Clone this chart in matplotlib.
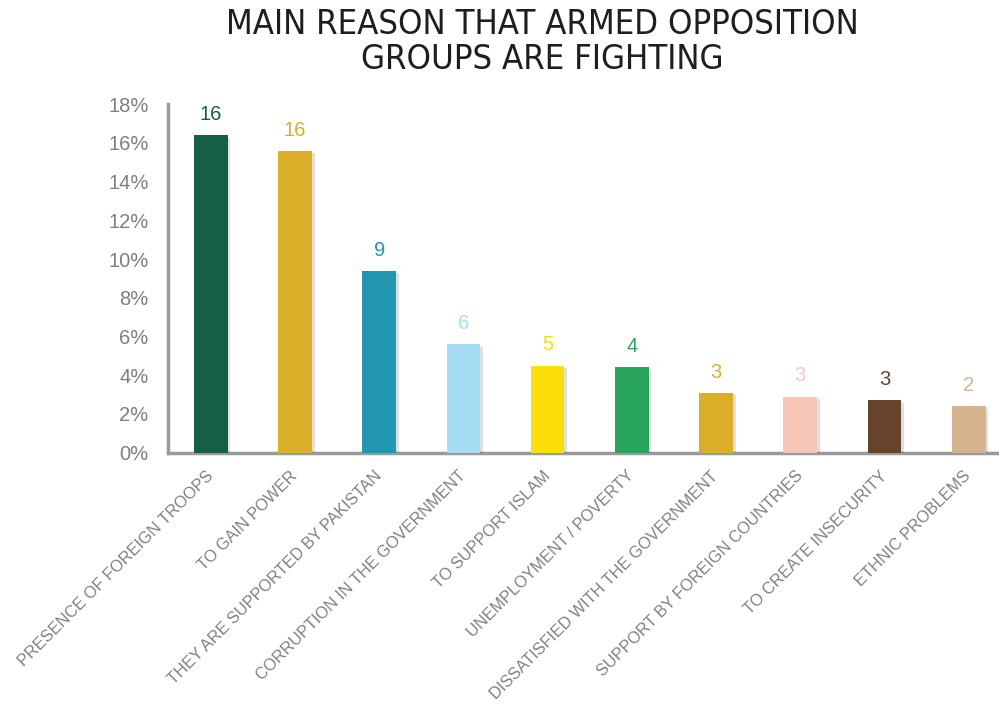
import matplotlib
matplotlib.use("Agg")
import matplotlib.pyplot as plt
import matplotlib.patheffects as pe
from matplotlib.ticker import FuncFormatter
import numpy as np

categories = [
    "PRESENCE OF FOREIGN TROOPS",
    "TO GAIN POWER",
    "THEY ARE SUPPORTED BY PAKISTAN",
    "CORRUPTION IN THE GOVERNMENT",
    "TO SUPPORT ISLAM",
    "UNEMPLOYMENT / POVERTY",
    "DISSATISFIED WITH THE GOVERNMENT",
    "SUPPORT BY FOREIGN COUNTRIES",
    "TO CREATE INSECURITY",
    "ETHNIC PROBLEMS",
]
values = [16.4, 15.6, 9.4, 5.6, 4.5, 4.4, 3.1, 2.9, 2.7, 2.4]
colors = ["#165E48", "#DBAE27", "#2196B0", "#A7DDF4", "#FBDF07",
          "#27A55A", "#DBAE27", "#F8C7B8", "#66432A", "#D6B38C"]
yticks = [0, 2, 4, 6, 8, 10, 12, 14, 16, 18]
title = "MAIN REASON THAT ARMED OPPOSITION\nGROUPS ARE FIGHTING"

plt.rcParams["font.family"] = ["Liberation Sans", "DejaVu Sans"]

fig = plt.figure(figsize=(9.99, 7.04), dpi=100)
ax = fig.add_axes([0.168, 0.357, 0.832, 0.495])

x = np.arange(len(values))
bars = ax.bar(x, values, width=0.4, color=colors, zorder=3)
for b in bars:
    b.set_path_effects([pe.SimplePatchShadow(offset=(2, -2), shadow_rgbFace="#000000", alpha=0.12),
                        pe.Normal()])

# value labels, rounded half-up to whole percent
for xi, v, c in zip(x, values, colors):
    ax.annotate(f"{int(v + 0.5)}", (xi, v), xytext=(0, 8), textcoords="offset points",
                ha="center", va="bottom", fontsize=14.5, color=c)

ax.set_xlim(-0.51, 9.36)
ax.set_ylim(0, 18)
ax.set_yticks(yticks)
ax.yaxis.set_major_formatter(FuncFormatter(lambda v, _: f"{v:.0f}%"))
ax.tick_params(axis="y", length=0, pad=14, labelsize=14.5, labelcolor="#7F7F7F")
ax.tick_params(axis="x", length=0, pad=15)
ax.set_xticks(x)
ax.set_xticklabels(categories, rotation=45, ha="right", va="center",
                   rotation_mode="anchor", fontsize=11.7, color="#808080")

for side in ("top", "right"):
    ax.spines[side].set_visible(False)
for side in ("left", "bottom"):
    ax.spines[side].set_color("#9A9A9C")
    ax.spines[side].set_linewidth(2.5)

fig.text(0.543, 0.988, title, ha="center", va="top", fontsize=24.8,
         family="DejaVu Sans", fontstretch="condensed",
         color="#1E1E1E", linespacing=1.05)

fig.savefig("out.png", dpi=100, facecolor="white")
